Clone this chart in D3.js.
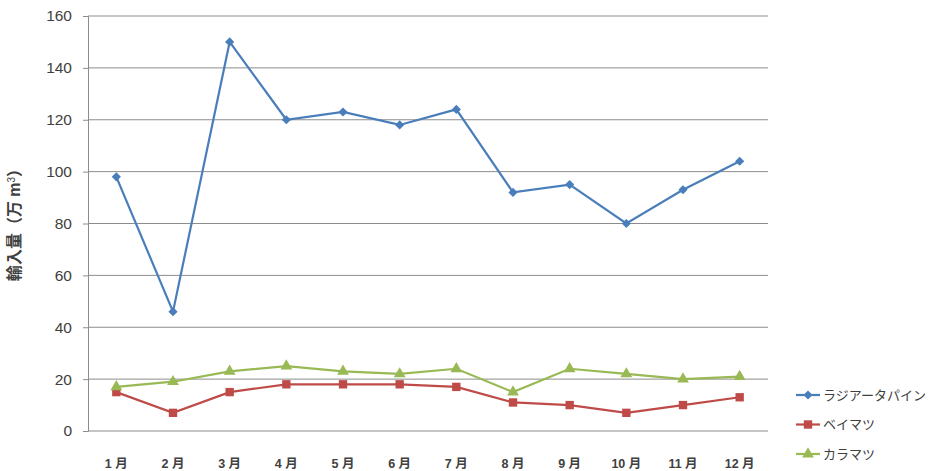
<!DOCTYPE html>
<html>
<head>
<meta charset="utf-8">
<script src="https://cdn.jsdelivr.net/npm/d3@7"></script>
<style>
  body { margin: 0; background: #fff; }
  svg text { font-family: "Liberation Sans", Arial, "Noto Sans CJK JP", sans-serif; fill: #404040; }
</style>
</head>
<body>
<div class="container"></div>
<script>
const months = ['1 月', '2 月', '3 月', '4 月', '5 月', '6 月', '7 月', '8 月', '9 月', '10 月', '11 月', '12 月'];
const radiata = [98, 46, 150, 120, 123, 118, 124, 92, 95, 80, 93, 104];
const beimatsu = [15, 7, 15, 18, 18, 18, 17, 11, 10, 7, 10, 13];
const karamatsu = [17, 19, 23, 25, 23, 22, 24, 15, 24, 22, 20, 21];
const yTicks = [0, 20, 40, 60, 80, 100, 120, 140, 160];

const series = [
    { name: 'ラジアータパイン', values: radiata, color: '#4a7ebb', shape: d3.symbolSquare, size: 42, rot: 45 },
    { name: 'ベイマツ', values: beimatsu, color: '#be4b48', shape: d3.symbolSquare, size: 70, rot: 0 },
    { name: 'カラマツ', values: karamatsu, color: '#98b954', shape: d3.symbolTriangle, size: 60, rot: 0 }
];

const w = 951, h = 471,
    padding = { top: 16, bottom: 40, left: 88, right: 183 };

const xScale = d3.scaleBand()
    .domain(months)
    .range([padding.left, w - padding.right]);

const yScale = d3.scaleLinear()
    .domain([0, 160])
    .range([h - padding.bottom, padding.top]);

const svg = d3.select('div.container')
    .append('svg')
    .attr('width', w)
    .attr('height', h);

// gridlines
svg.append('g')
    .selectAll('line')
    .data(yTicks)
    .enter()
    .append('line')
    .attr('x1', padding.left)
    .attr('x2', w - padding.right)
    .attr('y1', d => yScale(d))
    .attr('y2', d => yScale(d))
    .attr('stroke', '#8c8c8c')
    .attr('stroke-width', 1);

const yAxis = d3.axisLeft(yScale).tickValues(yTicks).tickSize(5).tickPadding(11);
const gy = svg.append('g')
    .attr('transform', 'translate(' + padding.left + ',0)')
    .call(yAxis);
gy.select('.domain').attr('stroke', '#8c8c8c');
gy.selectAll('.tick line').attr('stroke', '#8c8c8c');
gy.selectAll('.tick text').style('font-size', '15.5px').style('fill', '#404040');

const xAxis = d3.axisBottom(xScale).tickSize(0).tickPadding(28);
const gx = svg.append('g')
    .attr('transform', 'translate(0,' + (h - padding.bottom) + ')')
    .call(xAxis);
gx.select('.domain').remove();
gx.selectAll('.tick text').style('font-size', '12.5px').style('font-weight', 'bold').style('fill', '#404040');

// axis title
const title = svg.append('text')
    .attr('transform', 'translate(20,221) rotate(-90)')
    .attr('text-anchor', 'middle')
    .style('font-size', '16px')
    .style('font-weight', 'bold');
title.append('tspan').text('輸入量（万 m');
title.append('tspan').attr('baseline-shift', 'super').style('font-size', '10px').style('font-weight', 'normal').text('3');
title.append('tspan').text('）');

const line = d3.line()
    .x((d, i) => xScale(months[i]) + xScale.bandwidth() / 2)
    .y(d => yScale(d));

series.forEach(s => {
    svg.append('path')
        .datum(s.values)
        .attr('fill', 'none')
        .attr('stroke', s.color)
        .attr('stroke-width', 2.2)
        .attr('d', line);

    svg.append('g')
        .selectAll('path')
        .data(s.values)
        .enter()
        .append('path')
        .attr('d', d3.symbol().type(s.shape).size(s.size))
        .attr('transform', (d, i) => 'translate(' + (xScale(months[i]) + xScale.bandwidth() / 2) + ',' + yScale(d) + ') rotate(' + s.rot + ')')
        .attr('fill', s.color);
});

// legend
const legend = svg.append('g').attr('transform', 'translate(796,395)');
series.forEach((s, i) => {
    const g = legend.append('g').attr('transform', 'translate(0,' + (i * 29.5) + ')');
    g.append('line')
        .attr('x1', 0).attr('x2', 24)
        .attr('stroke', s.color).attr('stroke-width', 2.2);
    g.append('path')
        .attr('d', d3.symbol().type(s.shape).size(s.size))
        .attr('transform', 'translate(12,0) rotate(' + s.rot + ')')
        .attr('fill', s.color);
    g.append('text')
        .attr('x', 27)
        .attr('dy', '0.35em')
        .style('font-size', '13px')
        .text(s.name);
});
</script>
</body>
</html>
